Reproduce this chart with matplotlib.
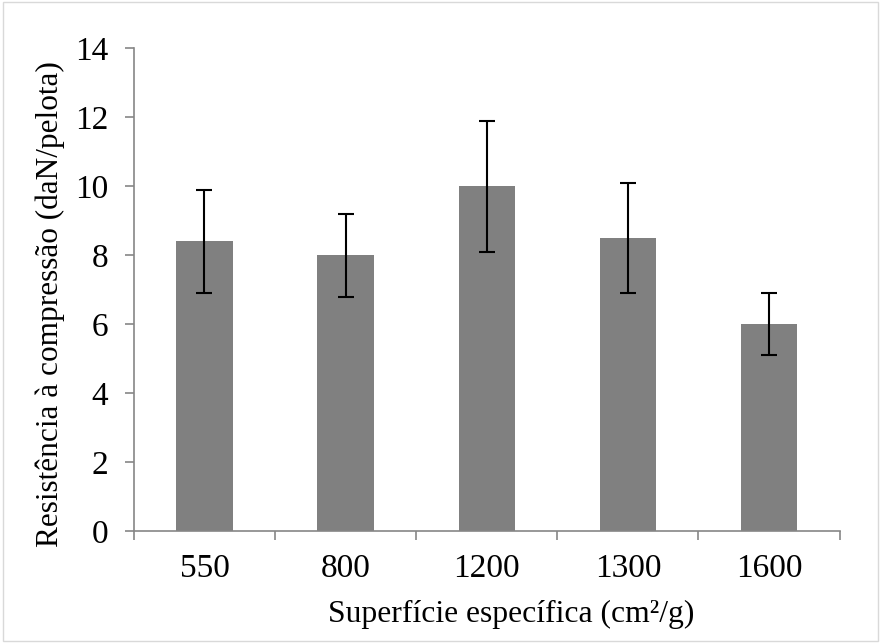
import numpy as np
import matplotlib.pyplot as plt
from matplotlib.patches import Rectangle

plt.rcParams['font.family'] = ['Liberation Serif', 'DejaVu Serif']

# dados
categorias = ['550', '800', '1200', '1300', '1600']
resistencia = [8.4, 8.0, 10.0, 8.5, 6.0]
desvio = [1.5, 1.2, 1.9, 1.6, 0.9]

fig = plt.figure(figsize=(8.81, 6.43), dpi=100)
ax = fig.add_axes([0.152, 0.174, 0.801, 0.751])

x = np.arange(len(categorias))
ax.bar(x, resistencia, width=0.4, color='#808080', zorder=2)
ax.errorbar(x, resistencia, yerr=desvio, fmt='none', ecolor='black',
            elinewidth=1.5, capsize=6, capthick=1.5, zorder=3)

ax.set_xlim(-0.5, len(categorias) - 0.5)
ax.set_ylim(0, 14)
ax.set_yticks(np.arange(0, 15, 2))
ax.set_xticks(x)
ax.set_xticklabels(categorias)
ax.set_xticks(np.arange(-0.5, len(categorias), 1), minor=True)
ax.tick_params(axis='x', which='major', length=0, pad=16, labelsize=24)
ax.tick_params(axis='x', which='minor', length=6.5, width=1.2, color='#868686', direction='out')
ax.tick_params(axis='y', length=6.5, width=1.2, color='#868686', direction='out', labelsize=24, pad=12)

for s in ['top', 'right']:
    ax.spines[s].set_visible(False)
for s in ['left', 'bottom']:
    ax.spines[s].set_color('#868686')
    ax.spines[s].set_linewidth(1.2)

ax.set_xlabel('Superfície específica (cm²/g)', fontsize=22.8)
ax.xaxis.set_label_coords(0.535, -0.143)
ax.set_ylabel('Resistência à compressão (daN/pelota)', fontsize=22.5, labelpad=7)
ax.yaxis.label.set_y(0.47)

fig.patches.append(Rectangle((0.003, 0.003), 0.994, 0.994, transform=fig.transFigure,
                             fill=False, edgecolor='#d9d9d9', linewidth=1))

fig.savefig('out.png', dpi=100)
